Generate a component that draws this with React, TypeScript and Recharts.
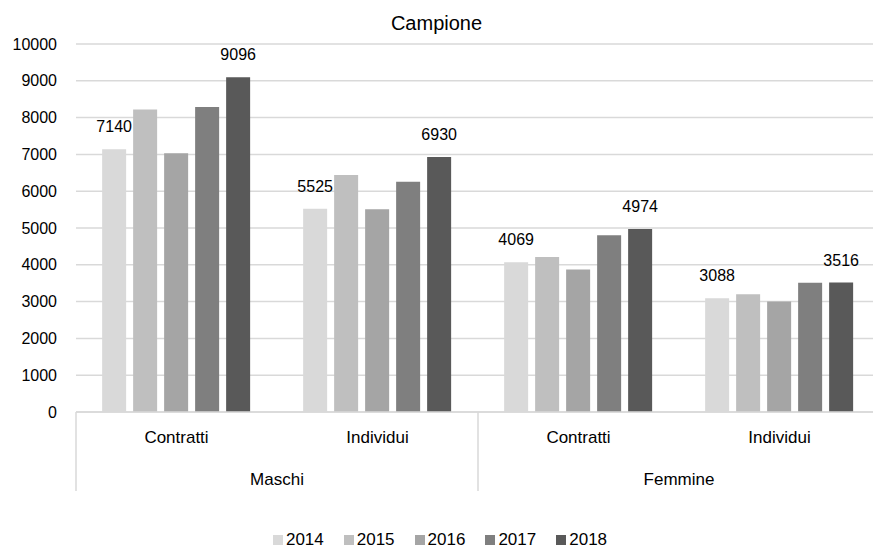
import React from "react";
import { BarChart, Bar, XAxis, YAxis, CartesianGrid, Legend, LabelList } from "recharts";

const categories = ["Contratti", "Individui", "Contratti", "Individui"];
const groups = ["Maschi", "Femmine"];
const years = ["2014", "2015", "2016", "2017", "2018"];

const v2014 = [7140, 5525, 4069, 3088];
const v2015 = [8220, 6440, 4210, 3200];
const v2016 = [7030, 5510, 3870, 3000];
const v2017 = [8290, 6260, 4800, 3510];
const v2018 = [9096, 6930, 4974, 3516];

const yTicks = [0, 1000, 2000, 3000, 4000, 5000, 6000, 7000, 8000, 9000, 10000];
const colors = ["#d9d9d9", "#bfbfbf", "#a5a5a5", "#7f7f7f", "#595959"];

const series = [v2014, v2015, v2016, v2017, v2018];
const data = categories.map((name, i) => {
  const row: Record<string, string | number> = { name };
  years.forEach((y, s) => {
    row[y] = series[s][i];
  });
  return row;
});

const font = "'Liberation Sans', Arial, sans-serif";

// outer level of the category axis: group names and separators
function GroupTick(props: any) {
  const { x, y, payload } = props;
  const v = payload.value;
  if (v % 2 === 0) {
    return <line x1={x} x2={x} y1={y - 42} y2={y + 37} stroke="#d9d9d9" strokeWidth={1.5} />;
  }
  return (
    <text x={x} y={y + 31} textAnchor="middle" fontSize={17} fill="#000" fontFamily={font}>
      {groups[(v - 1) / 2]}
    </text>
  );
}

function LegendBox(props: any) {
  const items = props.payload || [];
  return (
    <div
      style={{
        height: 22,
        display: "flex",
        justifyContent: "center",
        alignItems: "center",
        fontSize: 17,
        fontFamily: font,
        color: "#000",
      }}
    >
      {items.map((it: any, i: number) => (
        <div
          key={it.value}
          style={{ display: "flex", alignItems: "center", marginLeft: i === 0 ? 0 : 20 }}
        >
          <span style={{ width: 10, height: 10, background: it.color, marginRight: 3 }} />
          <span>{it.value}</span>
        </div>
      ))}
    </div>
  );
}

export default function App() {
  return (
    <div
      style={{
        position: "absolute",
        left: 0,
        top: 0,
        width: 873,
        height: 551,
        overflow: "hidden",
        background: "#fff",
        fontFamily: font,
      }}
    >
      <div
        style={{
          position: "absolute",
          top: 13,
          left: 0,
          width: 873,
          textAlign: "center",
          fontSize: 20,
          lineHeight: "20px",
          color: "#000",
        }}
      >
        Campione
      </div>
      <BarChart
        width={888}
        height={551}
        data={data}
        margin={{ top: 44, right: 8, left: 0, bottom: 0 }}
        barCategoryGap="13%"
        barGap={7}
      >
        <CartesianGrid vertical={false} stroke="#d9d9d9" strokeWidth={1.5} />
        <YAxis
          domain={[0, 10000]}
          ticks={yTicks}
          axisLine={false}
          tickLine={false}
          tickSize={0}
          tickMargin={19}
          width={76}
          tick={{ fontSize: 16, fill: "#000", fontFamily: font }}
        />
        <XAxis
          dataKey="name"
          xAxisId="inner"
          height={42}
          interval={0}
          tickLine={false}
          tickSize={0}
          tickMargin={19}
          axisLine={{ stroke: "#d9d9d9", strokeWidth: 1.5 }}
          tick={{ fontSize: 17, fill: "#000", fontFamily: font }}
        />
        <XAxis
          xAxisId="outer"
          type="number"
          dataKey={() => 0}
          domain={[0, 4]}
          ticks={[0, 1, 2, 3, 4]}
          allowDataOverflow
          interval={0}
          height={75}
          axisLine={false}
          tickLine={false}
          tickSize={0}
          tickMargin={0}
          tick={<GroupTick />}
        />
        <Legend content={<LegendBox />} />
        {years.map((y, s) => (
          <Bar key={y} dataKey={y} xAxisId="inner" fill={colors[s]} isAnimationActive={false}>
            {(s === 0 || s === 4) && (
              <LabelList
                dataKey={y}
                position="top"
                offset={17}
                fontSize={16}
                fill="#000"
                fontFamily={font}
              />
            )}
          </Bar>
        ))}
      </BarChart>
    </div>
  );
}
